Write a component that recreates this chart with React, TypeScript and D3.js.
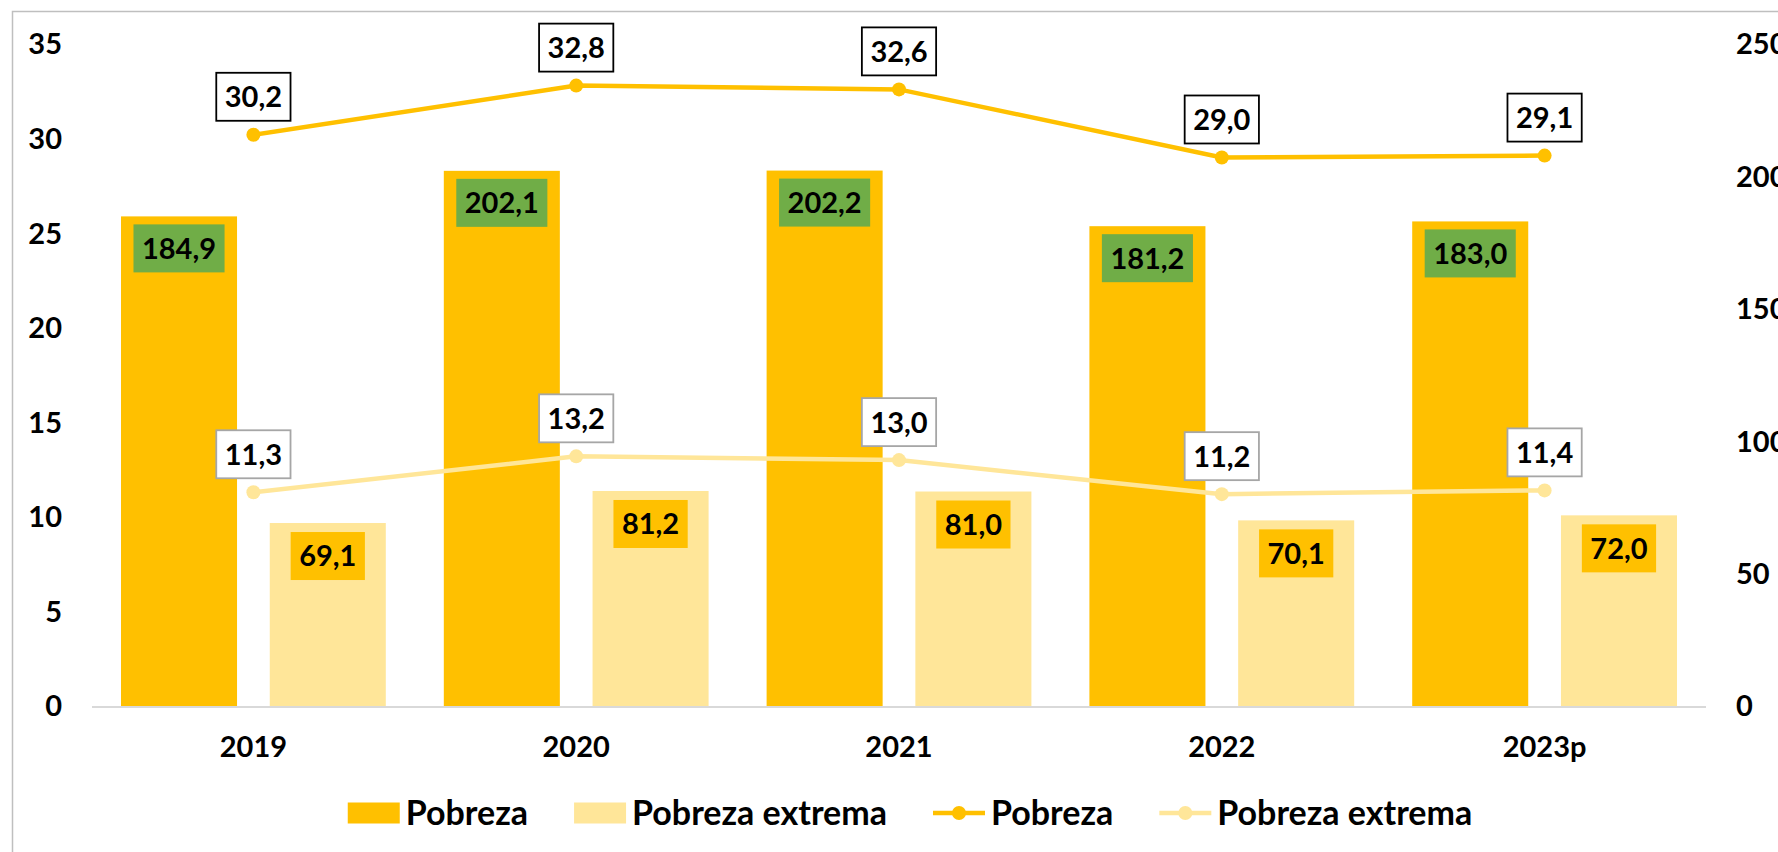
import React, { useRef, useEffect } from 'react';
import * as d3 from 'd3';

const years = ['2019', '2020', '2021', '2022', '2023p'];
// millions of people (bars, right axis)
const pobrezaMill = [184.9, 202.1, 202.2, 181.2, 183.0];
const extremaMill = [69.1, 81.2, 81.0, 70.1, 72.0];
// percentages (lines, left axis)
const pobrezaPct = [30.2, 32.8, 32.6, 29.0, 29.1];
const extremaPct = [11.3, 13.2, 13.0, 11.2, 11.4];
const leftTicks = [0, 5, 10, 15, 20, 25, 30, 35];
const rightTicks = [0, 50, 100, 150, 200, 250];

const DARK = '#FFC000';
const LIGHT = '#FFE699';
const GREEN = '#70AD47';
const FONT = 'Lato, "Open Sans", sans-serif';

const App = () => {
  const ref = useRef<SVGSVGElement>(null);

  useEffect(() => {
    document.body.style.margin = '0';
    const width = 1778, height = 852;
    const margin = { top: 44, right: 72, bottom: 146, left: 92 };
    const fmt = (v: number) => d3.format('.1f')(v).replace('.', ',');

    const x0 = d3.scaleBand().domain(years).range([margin.left, width - margin.right]).padding(0);
    const x1 = d3.scaleBand().domain(['p', 'e']).range([0, x0.bandwidth()])
      .paddingInner(0.22).paddingOuter(0.195);
    const yL = d3.scaleLinear().domain([0, 35]).range([height - margin.bottom, margin.top]);
    const yR = d3.scaleLinear().domain([0, 250]).range([height - margin.bottom, margin.top]);

    const svg = d3.select(ref.current).attr('viewBox', [0, 0, width, height]);
    svg.selectAll('*').remove();

    svg.append('rect').attr('width', width).attr('height', height).attr('fill', '#fff');
    // chart frame (top/left visible)
    svg.append('path').attr('d', `M12.5,${height} V11.5 H${width}`)
      .attr('fill', 'none').attr('stroke', '#BFBFBF').attr('stroke-width', 1.5);

    const txt = (g: any, size = 29) => g.attr('font-family', FONT).attr('font-weight', 700)
      .attr('font-size', size).attr('fill', '#000');

    // axes labels
    svg.append('g').selectAll('text').data(leftTicks).join('text')
      .call(txt).attr('x', 62).attr('y', d => yL(d)).attr('dy', '0.36em')
      .attr('text-anchor', 'end').text(d => d);
    svg.append('g').selectAll('text').data(rightTicks).join('text')
      .call(txt).attr('x', 1736).attr('y', d => yR(d)).attr('dy', '0.36em')
      .attr('text-anchor', 'start').text(d => d);
    svg.append('g').selectAll('text').data(years).join('text')
      .call(txt).attr('x', d => x0(d)! + x0.bandwidth() / 2).attr('y', 757)
      .attr('text-anchor', 'middle').text(d => d);

    // bars
    const bars = svg.append('g');
    bars.selectAll('rect.p').data(years).join('rect').attr('class', 'p')
      .attr('x', d => x0(d)! + x1('p')!).attr('width', x1.bandwidth())
      .attr('y', (d, i) => yR(pobrezaMill[i])).attr('height', (d, i) => yR(0) - yR(pobrezaMill[i]))
      .attr('fill', DARK);
    bars.selectAll('rect.e').data(years).join('rect').attr('class', 'e')
      .attr('x', d => x0(d)! + x1('e')!).attr('width', x1.bandwidth())
      .attr('y', (d, i) => yR(extremaMill[i])).attr('height', (d, i) => yR(0) - yR(extremaMill[i]))
      .attr('fill', LIGHT);

    // baseline
    svg.append('line').attr('x1', margin.left).attr('x2', width - margin.right)
      .attr('y1', yR(0) + 1).attr('y2', yR(0) + 1).attr('stroke', '#D9D9D9').attr('stroke-width', 2);

    // lines
    const cx = (d: string) => x0(d)! + x0.bandwidth() / 2;
    const series = [
      { vals: pobrezaPct, color: DARK, border: '#000' },
      { vals: extremaPct, color: LIGHT, border: '#A6A6A6' },
    ];
    series.forEach(s => {
      const line = d3.line<number>().x((v, i) => cx(years[i])).y(v => yL(v));
      svg.append('path').datum(s.vals).attr('d', line).attr('fill', 'none')
        .attr('stroke', s.color).attr('stroke-width', 4.5);
      svg.append('g').selectAll('circle').data(s.vals).join('circle')
        .attr('cx', (v, i) => cx(years[i])).attr('cy', v => yL(v)).attr('r', 7).attr('fill', s.color);
    });

    // data label helper: box then text
    const label = (cxv: number, top: number, value: number, fill: string, stroke: string | null) => {
      const g = svg.append('g');
      const rect = g.append('rect');
      const t = g.append('text').call(txt).attr('text-anchor', 'middle')
        .attr('x', cxv).attr('y', top + 24).attr('dy', '0.36em').text(fmt(value));
      const w = (t.node() as SVGTextElement).getComputedTextLength() + 17;
      rect.attr('x', cxv - w / 2).attr('y', top).attr('width', w).attr('height', 48).attr('fill', fill);
      if (stroke) rect.attr('stroke', stroke).attr('stroke-width', 1.8);
    };

    years.forEach((d, i) => {
      label(x0(d)! + x1('p')! + x1.bandwidth() / 2, yR(pobrezaMill[i]) + 8, pobrezaMill[i], GREEN, null);
      label(x0(d)! + x1('e')! + x1.bandwidth() / 2, yR(extremaMill[i]) + 9, extremaMill[i], DARK, null);
      label(cx(d), yL(pobrezaPct[i]) - 14 - 48, pobrezaPct[i], '#fff', series[0].border);
      label(cx(d), yL(extremaPct[i]) - 14 - 48, extremaPct[i], '#fff', series[1].border);
    });

    // legend
    const legendItems = [
      { name: 'Pobreza', color: DARK, kind: 'bar' },
      { name: 'Pobreza extrema', color: LIGHT, kind: 'bar' },
      { name: 'Pobreza', color: DARK, kind: 'line' },
      { name: 'Pobreza extrema', color: LIGHT, kind: 'line' },
    ];
    const lg = svg.append('g');
    const ly = 813;
    const gap = 46;
    let xpos = 0;
    legendItems.forEach(it => {
      const g = lg.append('g').attr('transform', `translate(${xpos},0)`);
      if (it.kind === 'bar') {
        g.append('rect').attr('x', 0).attr('y', ly - 10.5).attr('width', 52).attr('height', 21).attr('fill', it.color);
      } else {
        g.append('line').attr('x1', 0).attr('x2', 52).attr('y1', ly).attr('y2', ly)
          .attr('stroke', it.color).attr('stroke-width', 4.5);
        g.append('circle').attr('cx', 26).attr('cy', ly).attr('r', 7).attr('fill', it.color);
      }
      const t = g.append('text').call(txt, 34).attr('x', 58).attr('y', ly).attr('dy', '0.36em').text(it.name);
      xpos += 58 + (t.node() as SVGTextElement).getComputedTextLength() + gap;
    });
    const total = xpos - gap;
    lg.attr('transform', `translate(${910 - total / 2},0)`);
  }, []);

  return <svg ref={ref} width={1778} height={852} style={{ display: 'block' }}></svg>;
};

export default App;
